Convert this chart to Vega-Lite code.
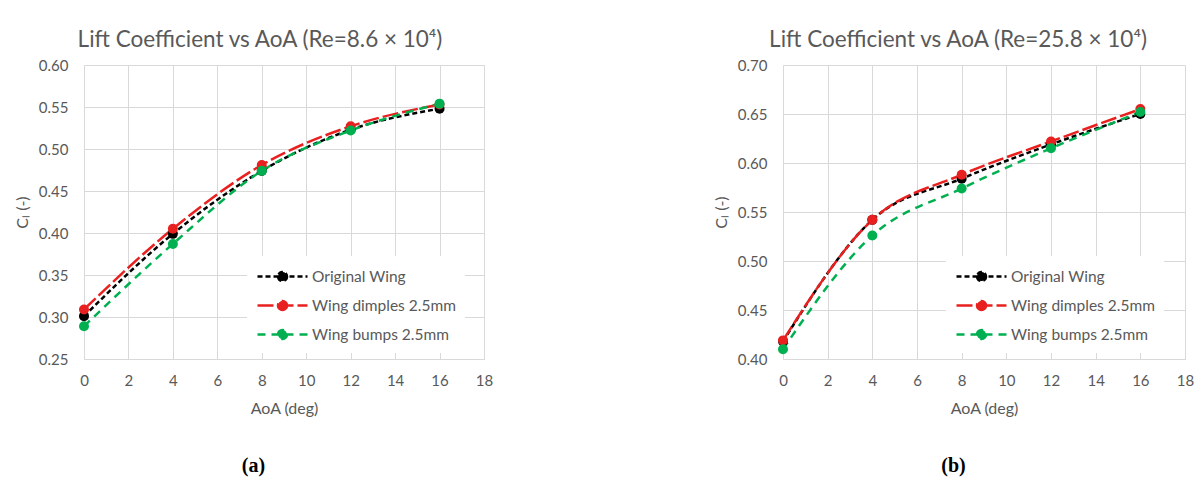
{
  "$schema": "https://vega.github.io/schema/vega-lite/v6.json",
  "background": "white",
  "padding": {"left": 14, "top": 28, "right": 5, "bottom": 5},
  "datasets": {
    "a": [
      {"series": "Original Wing", "aoa": 0, "cl": 0.301},
      {"series": "Original Wing", "aoa": 4, "cl": 0.399},
      {"series": "Original Wing", "aoa": 8, "cl": 0.474},
      {"series": "Original Wing", "aoa": 12, "cl": 0.523},
      {"series": "Original Wing", "aoa": 16, "cl": 0.548},
      {"series": "Wing dimples 2.5mm", "aoa": 0, "cl": 0.309},
      {"series": "Wing dimples 2.5mm", "aoa": 4, "cl": 0.405},
      {"series": "Wing dimples 2.5mm", "aoa": 8, "cl": 0.481},
      {"series": "Wing dimples 2.5mm", "aoa": 12, "cl": 0.527},
      {"series": "Wing dimples 2.5mm", "aoa": 16, "cl": 0.553},
      {"series": "Wing bumps 2.5mm", "aoa": 0, "cl": 0.289},
      {"series": "Wing bumps 2.5mm", "aoa": 4, "cl": 0.387},
      {"series": "Wing bumps 2.5mm", "aoa": 8, "cl": 0.474},
      {"series": "Wing bumps 2.5mm", "aoa": 12, "cl": 0.522},
      {"series": "Wing bumps 2.5mm", "aoa": 16, "cl": 0.554}
    ],
    "b": [
      {"series": "Original Wing", "aoa": 0, "cl": 0.418},
      {"series": "Original Wing", "aoa": 4, "cl": 0.542},
      {"series": "Original Wing", "aoa": 8, "cl": 0.584},
      {"series": "Original Wing", "aoa": 12, "cl": 0.619},
      {"series": "Original Wing", "aoa": 16, "cl": 0.650},
      {"series": "Wing dimples 2.5mm", "aoa": 0, "cl": 0.419},
      {"series": "Wing dimples 2.5mm", "aoa": 4, "cl": 0.542},
      {"series": "Wing dimples 2.5mm", "aoa": 8, "cl": 0.588},
      {"series": "Wing dimples 2.5mm", "aoa": 12, "cl": 0.622},
      {"series": "Wing dimples 2.5mm", "aoa": 16, "cl": 0.655},
      {"series": "Wing bumps 2.5mm", "aoa": 0, "cl": 0.410},
      {"series": "Wing bumps 2.5mm", "aoa": 4, "cl": 0.526},
      {"series": "Wing bumps 2.5mm", "aoa": 8, "cl": 0.574},
      {"series": "Wing bumps 2.5mm", "aoa": 12, "cl": 0.615},
      {"series": "Wing bumps 2.5mm", "aoa": 16, "cl": 0.652}
    ]
  },
  "spacing": 220,
  "hconcat": [
    {
      "title": {"text": "(a)", "orient": "bottom", "anchor": "middle", "frame": "bounds", "font": "Liberation Serif", "fontSize": 20, "fontWeight": "bold", "color": "black", "offset": 40},
      "vconcat": [
        {
          "width": 400,
          "height": 294,
          "title": {"text": "Lift Coefficient vs AoA (Re=8.6 × 10⁴)", "dx": -24},
          "data": {"name": "a"},
          "encoding": {
            "x": {"field": "aoa", "type": "quantitative", "title": "AoA (deg)",
                  "scale": {"domain": [0, 18], "nice": false},
                  "axis": {"values": [0, 2, 4, 6, 8, 10, 12, 14, 16, 18]}},
            "y": {"field": "cl", "type": "quantitative", "title": "Cₗ (-)",
                  "scale": {"domain": [0.25, 0.6], "nice": false, "zero": false},
                  "axis": {"values": [0.25, 0.3, 0.35, 0.4, 0.45, 0.5, 0.55, 0.6], "format": ".2f"}},
            "color": {"field": "series", "type": "nominal", "title": null,
                      "scale": {"domain": ["Original Wing", "Wing dimples 2.5mm", "Wing bumps 2.5mm"], "range": ["#000000", "#e8201f", "#00b050"]},
                      "legend": {"orient": "none", "legendX": 163, "legendY": 191}}
          },
          "layer": [
            {"mark": {"type": "line", "interpolate": "monotone", "strokeWidth": 2.5},
             "encoding": {"strokeDash": {"field": "series", "type": "nominal", "title": null,
               "scale": {"domain": ["Original Wing", "Wing dimples 2.5mm", "Wing bumps 2.5mm"], "range": [[5, 3], [16, 4], [8, 6]]},
               "legend": {"orient": "none", "legendX": 163, "legendY": 191}}}},
            {"mark": {"type": "point", "filled": true, "size": 100, "opacity": 1}}
          ]
        }
      ]
    },
    {
      "title": {"text": "(b)", "orient": "bottom", "anchor": "middle", "frame": "bounds", "font": "Liberation Serif", "fontSize": 20, "fontWeight": "bold", "color": "black", "offset": 40},
      "vconcat": [
        {
          "width": 402,
          "height": 294,
          "title": {"text": "Lift Coefficient vs AoA (Re=25.8 × 10⁴)", "dx": -26},
          "data": {"name": "b"},
          "encoding": {
            "x": {"field": "aoa", "type": "quantitative", "title": "AoA (deg)",
                  "scale": {"domain": [0, 18], "nice": false},
                  "axis": {"values": [0, 2, 4, 6, 8, 10, 12, 14, 16, 18]}},
            "y": {"field": "cl", "type": "quantitative", "title": "Cₗ (-)",
                  "scale": {"domain": [0.4, 0.7], "nice": false, "zero": false},
                  "axis": {"values": [0.4, 0.45, 0.5, 0.55, 0.6, 0.65, 0.7], "format": ".2f"}},
            "color": {"field": "series", "type": "nominal", "title": null,
                      "scale": {"domain": ["Original Wing", "Wing dimples 2.5mm", "Wing bumps 2.5mm"], "range": ["#000000", "#e8201f", "#00b050"]},
                      "legend": {"orient": "none", "legendX": 163, "legendY": 191}}
          },
          "layer": [
            {"mark": {"type": "line", "interpolate": "monotone", "strokeWidth": 2.5},
             "encoding": {"strokeDash": {"field": "series", "type": "nominal", "title": null,
               "scale": {"domain": ["Original Wing", "Wing dimples 2.5mm", "Wing bumps 2.5mm"], "range": [[5, 3], [16, 4], [8, 6]]},
               "legend": {"orient": "none", "legendX": 163, "legendY": 191}}}},
            {"mark": {"type": "point", "filled": true, "size": 100, "opacity": 1}}
          ]
        }
      ]
    }
  ],
  "resolve": {"scale": {"color": "independent", "strokeDash": "independent"}},
  "config": {
    "font": "Lato",
    "view": {"stroke": null},
    "title": {"font": "Lato", "fontSize": 22.5, "fontWeight": "normal", "color": "#595959", "anchor": "middle", "frame": "group", "offset": 7},
    "axis": {
      "labelFont": "Lato", "labelFontSize": 15, "labelColor": "#595959",
      "titleFont": "Lato", "titleFontSize": 16, "titleFontWeight": "normal", "titleColor": "#595959",
      "gridColor": "#d9d9d9", "gridWidth": 1, "ticks": false, "tickSize": 0,
      "domain": false
    },
    "axisX": {"labelPadding": 14, "titlePadding": 12, "domain": true, "domainColor": "#d9d9d9", "labelFlush": false},
    "axisY": {"labelPadding": 16, "titlePadding": 8, "labelFlush": false},
    "legend": {
      "fillColor": "white",
      "padding": 9,
      "labelFont": "Lato", "labelFontSize": 15.5, "labelColor": "#595959",
      "symbolType": "M-2.5,0L2.5,0M0.45,0A0.45,0.45,0,1,1,-0.45,0A0.45,0.45,0,1,1,0.45,0Z",
      "symbolSize": 400,
      "symbolOffset": 15,
      "symbolStrokeWidth": 2.5,
      "rowPadding": 8,
      "labelOffset": 18
    }
  }
}
